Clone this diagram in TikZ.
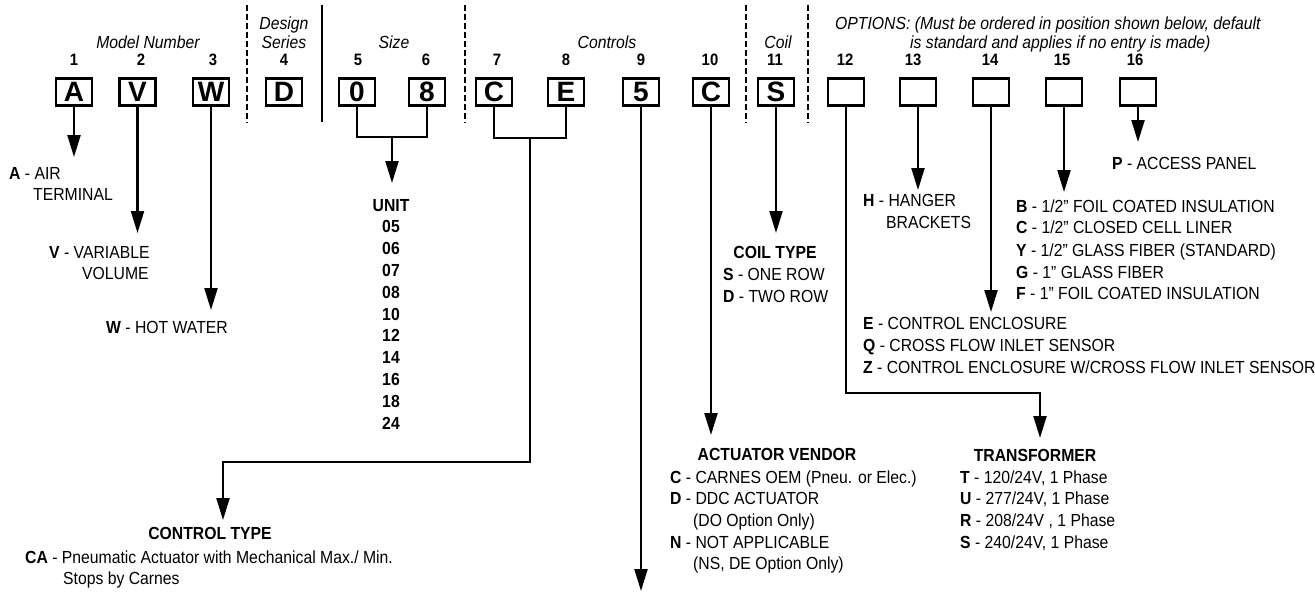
\documentclass[tikz,border=0pt]{standalone}
\usepackage{fontspec}
\setmainfont{Liberation Sans}[FakeStretch=0.9]
\newfontfamily\boxfont{Liberation Sans}
\usetikzlibrary{arrows.meta}
\tikzset{
  digitbox/.style={draw, line width=2.6pt, minimum width=36pt, minimum height=27pt, inner sep=0pt,
    font=\boxfont\fontsize{28}{28}\selectfont\bfseries},
  conn/.style={line width=2.2pt},
  arr/.style={conn, -{Triangle[length=22pt,width=13pt]}},
  sepdash/.style={line width=2.2pt, dash pattern=on 6pt off 3pt},
  sepsolid/.style={line width=2.2pt},
  txt/.style={anchor=base west, inner sep=0pt, font=\fontsize{17.5}{21}\selectfont},
  hdr/.style={anchor=base, inner sep=0pt, font=\fontsize{17.5}{21}\selectfont\bfseries},
  ital/.style={anchor=base, inner sep=0pt, font=\fontsize{17.5}{21}\selectfont\itshape},
  italw/.style={anchor=base west, inner sep=0pt, font=\fontsize{17.5}{21}\selectfont\itshape},
  num/.style={anchor=base, inner sep=0pt, font=\fontsize{16.5}{16.5}\selectfont\bfseries},
}
\newcommand\mytext[4]{\node[txt] (#1) at (#2,#3) {#4};}
\begin{document}
\begin{tikzpicture}[x=1pt,y=-1pt]
\useasboundingbox (0,0) rectangle (1315,592);

% group headings
\node[ital] (hMod) at (148,48) {Model Number};
\node[ital] (hDes1) at (284,29) {Design};
\node[ital] (hDes2) at (284,48) {Series};
\node[ital] (hSize) at (394,48) {Size};
\node[ital] (hCtl) at (607,48) {Controls};
\node[ital] (hCoil) at (778,48) {Coil};
\node[italw] (hOpt1) at (835,29) {OPTIONS: (Must be ordered in position shown below, default};
\node[italw] (hOpt2) at (910,48) {is standard and applies if no entry is made)};

% position numbers
\foreach \n/\x in {1/74,2/141,3/213,4/284,5/358,6/426,7/497,8/566,9/641,10/710,11/775,12/845,13/913,14/990,15/1062,16/1135}
  \node[num] (n\n) at (\x,65.5) {\n};

% boxes
\node[digitbox] (b1) at (74,92) {A};
\node[digitbox] (b2) at (137.5,92) {V};
\node[digitbox] (b3) at (211,92) {W};
\node[digitbox] (b4) at (284,92) {D};
\node[digitbox] (b5) at (357,92) {0};
\node[digitbox] (b6) at (427,92) {8};
\node[digitbox] (b7) at (494,92) {C};
\node[digitbox] (b8) at (566,92) {E};
\node[digitbox] (b9) at (641,92) {5};
\node[digitbox] (b10) at (711,92) {C};
\node[digitbox] (b11) at (776,92) {S};
\node[digitbox] (b12) at (846,92) {};
\node[digitbox] (b13) at (918,92) {};
\node[digitbox] (b14) at (991,92) {};
\node[digitbox] (b15) at (1064,92) {};
\node[digitbox] (b16) at (1138,92) {};

% separators
\draw[sepdash] (247,5) -- (247,123);
\draw[sepsolid] (322,5) -- (322,122);
\draw[sepdash] (465,5) -- (465,123);
\draw[sepdash] (746,5) -- (746,123);
\draw[sepdash] (808,5) -- (808,123);

% connector coordinates
\coordinate (t1) at (74,157);
\coordinate (t2) at (137.5,233);
\coordinate (t3) at (211,310);
\coordinate (szj) at (392,137);
\coordinate (szt) at (392,183);
\coordinate (ctj) at (530,138);
\coordinate (ctk) at (223,462);
\coordinate (ctt) at (223,520);
\coordinate (t9) at (641,591);
\coordinate (t10) at (711,435);
\coordinate (t11) at (776,233);
\coordinate (trk) at (1040,393);
\coordinate (trt) at (1040,438);
\coordinate (t13) at (918,190);
\coordinate (t14) at (991,312);
\coordinate (t15) at (1064,192);
\coordinate (t16) at (1138,142);

% connectors
\draw[arr] (b1.south) -- (t1);
\draw[arr] (b2.south) -- (t2);
\draw[arr] (b3.south) -- (t3);
\draw[conn] (b5.south) |- (szj) -| (b6.south);
\draw[arr] (szj) -- (szt);
\draw[conn] (b7.south) |- (ctj) -| (b8.south);
\draw[arr] (ctj) |- (ctk) -- (ctt);
\draw[arr] (b9.south) -- (t9);
\draw[arr] (b10.south) -- (t10);
\draw[arr] (b11.south) -- (t11);
\draw[arr] (b12.south) |- (trk) -- (trt);
\draw[arr] (b13.south) -- (t13);
\draw[arr] (b14.south) -- (t14);
\draw[arr] (b15.south) -- (t15);
\draw[arr] (b16.south) -- (t16);

% texts
\mytext{a1}{9}{179}{\textbf{A} - AIR}
\mytext{a2}{33}{200}{TERMINAL}
\mytext{v1}{49}{258}{\textbf{V} - VARIABLE}
\mytext{v2}{82}{279}{VOLUME}
\mytext{w1}{106}{333}{\textbf{W} - HOT WATER}

\node[hdr] (unit) at (391,211) {UNIT};
\foreach \u [count=\i] in {05,06,07,08,10,12,14,16,18,24}
  \node[hdr] (u\i) at (391,{211+21.8*\i}) {\u};

\node[hdr] (ctype) at (210,539) {CONTROL TYPE};
\mytext{ca1}{25}{563}{\textbf{CA} - Pneumatic Actuator with Mechanical Max./ Min.}
\mytext{ca2}{63}{584}{Stops by Carnes}

\node[hdr] (coil) at (775,258) {COIL TYPE};
\mytext{cs}{723}{280}{\textbf{S} - ONE ROW}
\mytext{cd}{723}{302}{\textbf{D} - TWO ROW}

\node[hdr] (av) at (777,460) {ACTUATOR VENDOR};
\mytext{avc}{670}{483}{\textbf{C} - CARNES OEM (Pneu. or Elec.)}
\mytext{avd}{670}{504}{\textbf{D} - DDC ACTUATOR}
\mytext{avd2}{693}{526}{(DO Option Only)}
\mytext{avn}{670}{548}{\textbf{N} - NOT APPLICABLE}
\mytext{avn2}{693}{569}{(NS, DE Option Only)}

\node[hdr] (tr) at (1035,461) {TRANSFORMER};
\mytext{trT}{960}{483}{\textbf{T} - 120/24V, 1 Phase}
\mytext{trU}{960}{504}{\textbf{U} - 277/24V, 1 Phase}
\mytext{trR}{960}{526}{\textbf{R} - 208/24V , 1 Phase}
\mytext{trS}{960}{548}{\textbf{S} - 240/24V, 1 Phase}

\mytext{h1}{863}{206}{\textbf{H} - HANGER}
\mytext{h2}{886}{228}{BRACKETS}

\mytext{e1}{863}{329}{\textbf{E} - CONTROL ENCLOSURE}
\mytext{e2}{863}{351}{\textbf{Q} - CROSS FLOW INLET SENSOR}
\mytext{e3}{863}{373}{\textbf{Z} - CONTROL ENCLOSURE W/CROSS FLOW INLET SENSOR}

\mytext{i1}{1016}{212}{\textbf{B} - 1/2” FOIL COATED INSULATION}
\mytext{i2}{1016}{233}{\textbf{C} - 1/2” CLOSED CELL LINER}
\mytext{i3}{1016}{256}{\textbf{Y} - 1/2” GLASS FIBER (STANDARD)}
\mytext{i4}{1016}{278}{\textbf{G} - 1” GLASS FIBER}
\mytext{i5}{1016}{299}{\textbf{F} - 1” FOIL COATED INSULATION}

\mytext{p1}{1112}{169}{\textbf{P} - ACCESS PANEL}
\end{tikzpicture}
\end{document}
